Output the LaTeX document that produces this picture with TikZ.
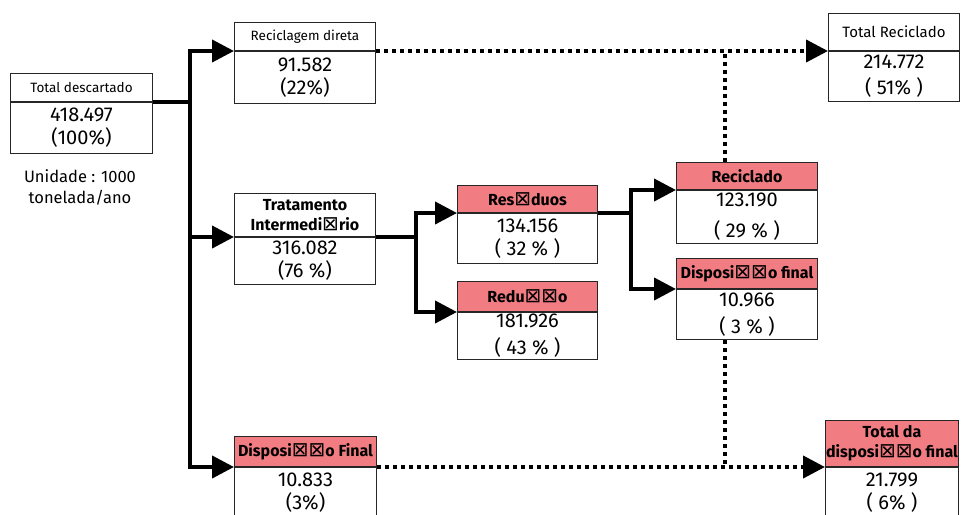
\documentclass[tikz,border=0pt]{standalone}
\usepackage{fontspec}
\setmainfont{Fira Sans}
\newfontfamily\caixafont{DejaVu Sans}
\usetikzlibrary{arrows.meta,positioning}
\definecolor{rosa}{RGB}{241,125,130}
\newcommand{\qx}{\scalebox{1.25}{\caixafont\mdseries ⊠}}

\begin{document}
\begin{tikzpicture}[x=1pt,y=-1pt,
  cab/.style={draw=black!85, line width=1pt, anchor=north west, inner sep=0pt, align=center, font=\fontsize{13.5}{15}\selectfont},
  cabN/.style={cab, font=\bfseries\fontsize{16}{20}\selectfont},
  cabR/.style={cabN, fill=rosa},
  corpo/.style={draw=black!85, line width=1pt, inner sep=0pt, align=center, font=\fontsize{20}{23}\selectfont},
  liga/.style={line width=4pt, -{Triangle[length=22pt,width=22pt]}},
  ponto/.style={line width=4pt, dash pattern=on 4pt off 4pt}]
\useasboundingbox (0,0) rectangle (961,514);
%Caixas
\node[cab, minimum width=142pt, minimum height=28pt] (descH) at (10,73) {Total descartado};
\node[corpo, minimum width=142pt, minimum height=51pt, below=0pt of descH] (desc) {418.497\\(100\%)};
\node[cab, minimum width=141pt, minimum height=28pt] (recH) at (234,22) {Reciclagem direta};
\node[corpo, minimum width=141pt, minimum height=52pt, below=0pt of recH] (rec) {91.582\\(22\%)};
\node[cabN, minimum width=141pt, minimum height=43pt] (tratH) at (234,193) {Tratamento\\Intermedi\qx rio};
\node[corpo, minimum width=141pt, minimum height=47pt, below=0pt of tratH] (trat) {316.082\\(76 \%)};
\node[cabR, minimum width=140pt, minimum height=27pt] (resH) at (457,185) {Res\qx duos};
\node[corpo, minimum width=140pt, minimum height=50pt, below=0pt of resH] (res) {134.156\\( 32 \% )};
\node[cabR, minimum width=140pt, minimum height=30pt] (redH) at (457,281) {Redu\qx\qx o};
\node[corpo, minimum width=140pt, minimum height=47pt, below=0pt of redH] (red) {181.926\\[4pt]( 43 \% )};
\node[cabR, minimum width=141pt, minimum height=27pt] (recicH) at (676,162) {Reciclado};
\node[corpo, minimum width=141pt, minimum height=53pt, below=0pt of recicH] (recic) {123.190\\[8pt]( 29 \% )};
\node[cabR, minimum width=141pt, minimum height=30pt] (dispH) at (676,258) {Disposi\qx\qx o final};
\node[corpo, minimum width=141pt, minimum height=50pt, below=0pt of dispH] (disp) {10.966\\[4pt]( 3 \% )};
\node[cab, minimum width=131pt, minimum height=37pt, font=\fontsize{15}{16}\selectfont] (totRecH) at (828,13) {Total Reciclado};
\node[corpo, minimum width=131pt, minimum height=50pt, below=0pt of totRecH] (totRec) {214.772\\[3pt]( 51\% )};
\node[cabR, minimum width=142pt, minimum height=30pt] (dfH) at (234,436) {Disposi\qx\qx o Final};
\node[corpo, minimum width=142pt, minimum height=50pt, below=0pt of dfH] (df) {10.833\\(3\%)};
\node[cabR, minimum width=133pt, minimum height=46pt] (tdfH) at (825,420) {Total da\\disposi\qx\qx o final};
\node[corpo, minimum width=133pt, minimum height=50pt, below=0pt of tdfH] (tdf) {21.799\\( 6\% )};
%Unidade
\node[align=center, font=\fontsize{16.5}{21}\selectfont] (unid) at (80,187) {Unidade : 1000\\tonelada/ano};
%Ligacoes
\draw[liga] (descH.south east) -- ++(37,0) |- (recH.south west);
\draw[liga] (descH.south east) -- ++(37,0) |- (tratH.south west);
\draw[liga] (descH.south east) -- ++(37,0) |- (dfH.south west);
\draw[liga] (tratH.south east) -- ++(40,0) |- (resH.south west);
\draw[liga] (tratH.south east) -- ++(40,0) |- (redH.south west);
\draw[liga] (resH.south east) -- ++(33,0) |- (recicH.south west);
\draw[liga] (resH.south east) -- ++(33,0) |- (dispH.south west);
%Pontilhado
\coordinate (v1) at ([xshift=49pt]recicH.north west);
\coordinate (v2) at ([xshift=49pt]disp.south west);
\draw[ponto] (v1) -- (v1 |- recH.south east);
\draw[ponto] (v2) -- (v2 |- dfH.south east);
\draw[ponto, -{Triangle[length=22pt,width=22pt]}] (recH.south east) -- (totRecH.south west);
\draw[ponto, -{Triangle[length=22pt,width=22pt]}] (dfH.south east) -- (tdfH.south west);
\end{tikzpicture}
\end{document}
